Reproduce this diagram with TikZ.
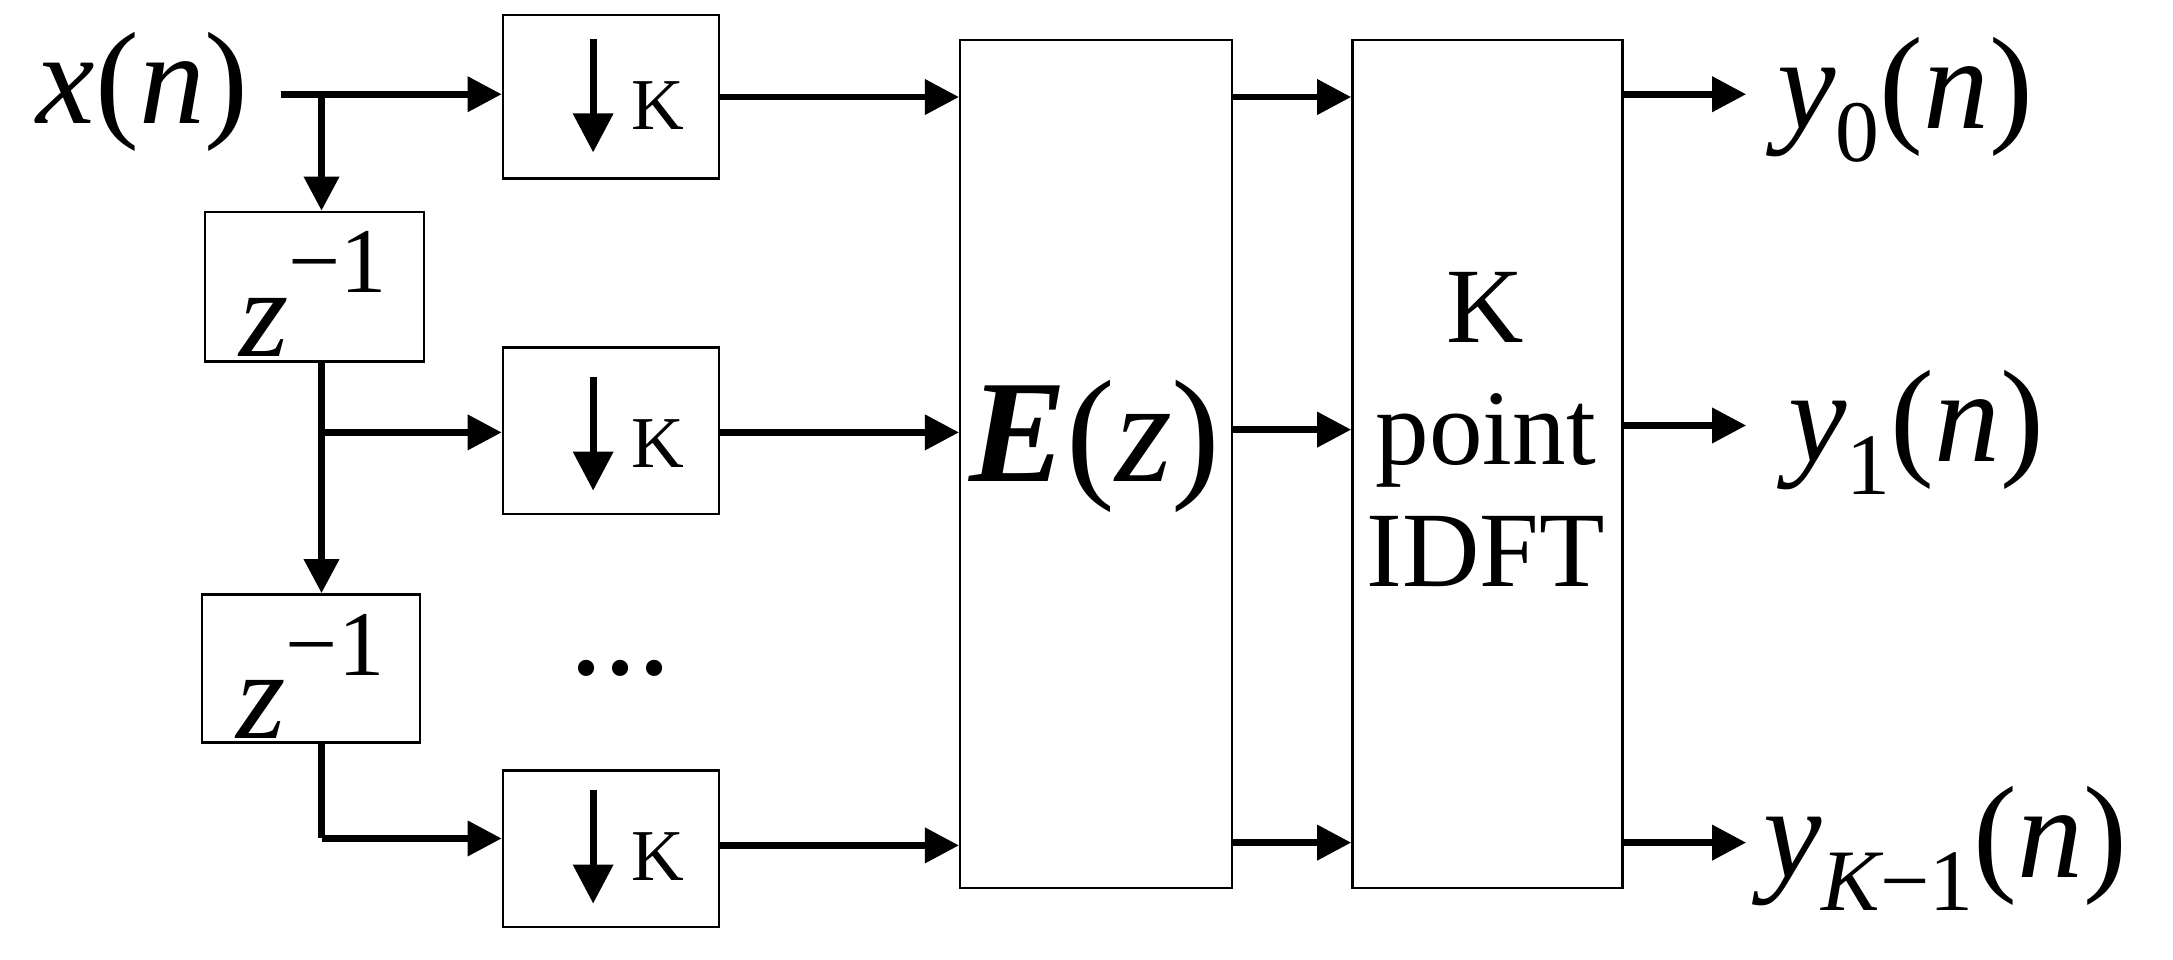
\documentclass[tikz,border=0pt]{standalone}
\usepackage{fontspec}
\setmainfont{Liberation Serif}
\usetikzlibrary{arrows.meta}
\begin{document}
\begin{tikzpicture}[
  box/.style={draw,line width=0.5pt,anchor=north west,inner sep=0pt},
  ar/.style={line width=1.4pt,-{Triangle[length=7pt,width=7pt]}},
  ln/.style={line width=1.4pt},
  lab/.style={font=\fontsize{27}{29}\selectfont}]
\useasboundingbox (0,0) rectangle (15.68,-6.92);
% boxes
\node[box,minimum width=1.56cm,minimum height=1.18cm] (d1) at (3.62,-0.10) {};
\node[box,minimum width=1.56cm,minimum height=1.20cm] (d2) at (3.62,-2.50) {};
\node[box,minimum width=1.56cm,minimum height=1.13cm] (d3) at (3.62,-5.55) {};
\node[box,minimum width=1.58cm,minimum height=1.08cm] (z1) at (1.47,-1.52) {};
\node[box,minimum width=1.57cm,minimum height=1.07cm] (z2) at (1.45,-4.28) {};
\node[box,minimum width=1.96cm,minimum height=6.12cm] (E) at (6.92,-0.28) {};
\node[box,minimum width=1.95cm,minimum height=6.12cm] (F) at (9.75,-0.28) {};
% box texts
\foreach \b/\y in {d1/0.68,d2/3.12,d3/6.10}{
  \draw[ln,-{Triangle[length=8pt,width=8pt]}] (4.28,-\y+0.40) -- (4.28,-\y-0.42);
  \node[font=\fontsize{15}{17}\selectfont] at (4.75,-\y-0.08) {K};
}
\node[font=\fontsize{26}{28}\selectfont] at (2.26,-2.12) {\itshape z\raisebox{0.5em}{\fontsize{19}{21}\selectfont\upshape −1}};
\node[font=\fontsize{26}{28}\selectfont] at (2.24,-4.88) {\itshape z\raisebox{0.5em}{\fontsize{19}{21}\selectfont\upshape −1}};
\node[font=\fontsize{30}{32}\selectfont] at (7.90,-3.22) {{\bfseries\itshape E}(\itshape z\upshape)};
\node[font=\fontsize{22}{25}\selectfont,align=center] at (10.72,-3.10) {K\\point\\IDFT};
\node[font=\fontsize{28}{30}\selectfont] at (4.48,-4.82) {...};
% labels
\node[lab] (x) at (1.03,-0.66) {\itshape x\upshape(\itshape n\upshape)};
\node[lab,anchor=west] (y0) at (12.70,-0.72) {\itshape y\raisebox{-0.25em}{\fontsize{18}{20}\selectfont\upshape 0}\upshape(\itshape n\upshape)};
\node[lab,anchor=west] (y1) at (12.78,-3.12) {\itshape y\raisebox{-0.25em}{\fontsize{18}{20}\selectfont\upshape 1}\upshape(\itshape n\upshape)};
\node[lab,anchor=west] (y2) at (12.60,-6.12) {\itshape y\raisebox{-0.25em}{\fontsize{18}{20}\selectfont K\upshape −1}\upshape(\itshape n\upshape)};
% coordinates
\coordinate (s0) at (2.03,-0.68);
\coordinate (j0) at (2.32,-0.68);
\coordinate (j1) at (2.32,-3.12);
\coordinate (j2) at (2.32,-6.05);
% connectors
\draw[ln] (s0) -- (j0);
\draw[ar] (j0) -- (d1.west |- j0);
\draw[ar] (j0) -- (z1.north -| j0);
\draw[ln] (z1.south -| j1) -- (j1);
\draw[ar] (j1) -- (d2.west |- j1);
\draw[ar] (j1) -- (z2.north -| j1);
\draw[ln] (z2.south -| j2) -- (j2);
\draw[ar] (j2) -- (d3.west |- j2);
\draw[ar] (d1.east |- 0,-0.70) -- (E.west |- 0,-0.70);
\draw[ar] (d2.east |- 0,-3.12) -- (E.west |- 0,-3.12);
\draw[ar] (d3.east |- 0,-6.10) -- (E.west |- 0,-6.10);
\foreach \y in {0.70,3.10,6.08}{
  \draw[ar] (E.east |- 0,-\y) -- (F.west |- 0,-\y);
}
\foreach \y in {0.68,3.07,6.08}{
  \draw[ar] (F.east |- 0,-\y) -- (12.60,-\y);
}
\end{tikzpicture}
\end{document}
